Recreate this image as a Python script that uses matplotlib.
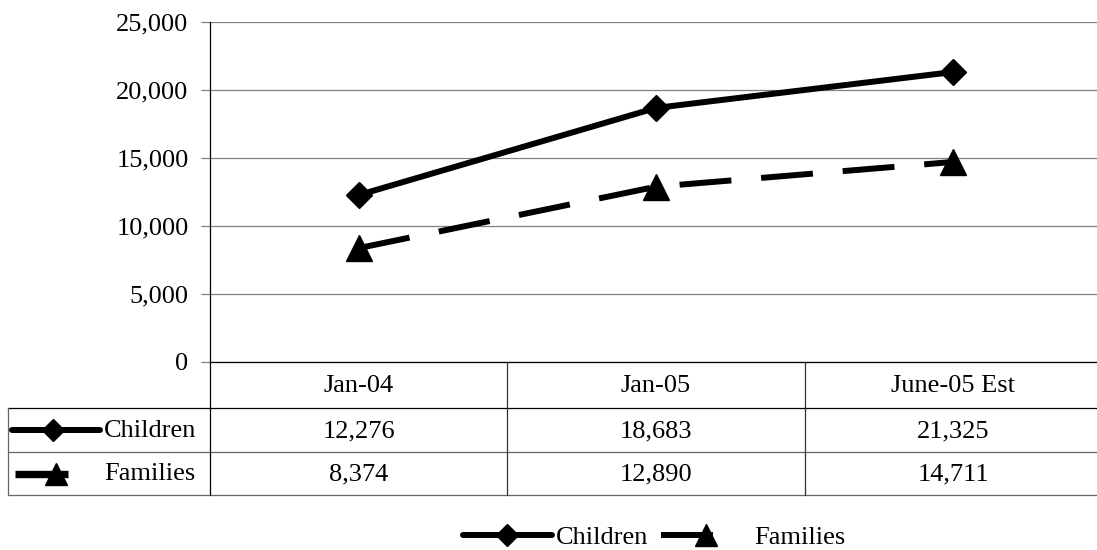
import matplotlib.pyplot as plt
from matplotlib.lines import Line2D
from matplotlib.transforms import blended_transform_factory

plt.rcParams['font.family'] = ['Liberation Serif', 'DejaVu Serif']

months = ['Jan-04', 'Jan-05', 'June-05 Est']
children = [12276, 18683, 21325]
families = [8374, 12890, 14711]

W, H = 1097, 550
FS = 19
GRID = '#808080'
LW = 4.3

fig = plt.figure(figsize=(W / 100, H / 100), dpi=100)

# plot area, given in pixels from the top-left corner
left, right, top, base = 210, 1102, 22, 362
ax = fig.add_axes([left / W, 1 - base / H, (right - left) / W, (base - top) / H])

child_line = dict(color='black', lw=LW, solid_capstyle='round', clip_on=False)
fam_line = dict(color='black', lw=LW, linestyle=(0, (8.7, 5.0)),
                dash_capstyle='butt', clip_on=False)

x = list(range(len(months)))
ax.plot(x, children, marker='D', ms=13, **child_line)
ax.plot(x, families, marker='^', ms=19, **fam_line)

ax.set_xlim(-0.5, len(months) - 0.5)
ax.set_ylim(0, 25000)
ax.set_yticks(range(0, 25001, 5000))
ax.yaxis.set_major_formatter(lambda v, p: f'{v:,.0f}')
ax.tick_params(axis='y', length=6.5, width=0.9, color=GRID, pad=9, labelsize=FS)
ax.tick_params(axis='x', bottom=False, labelbottom=False)
ax.grid(axis='y', color=GRID, lw=0.9)
for s in ['top', 'right']:
    ax.spines[s].set_visible(False)
ax.spines['left'].set_linewidth(0.9)
ax.spines['bottom'].set_linewidth(0.9)

# data table under the plot
t_head, t_row1, t_row2, t_bot = 362, 408, 452, 495
tab = fig.add_axes([0, 1 - t_bot / H, 1, (t_bot - t_head) / H])
tab.set_xlim(0, W)
tab.set_ylim(t_bot, t_head)
tab.axis('off')
bt = blended_transform_factory(ax.transData, tab.transData)

line_kw = dict(lw=0.9, clip_on=False)
tab.plot([8, W], [t_row1, t_row1], color='black', **line_kw)
tab.plot([8, W], [t_row2, t_row2], color='#666666', **line_kw)
tab.plot([8, W], [t_bot, t_bot], color='#666666', **line_kw)
tab.plot([8, 8], [t_row1, t_bot], color='#666666', **line_kw)
tab.plot([left, left], [t_head, t_bot], color='black', **line_kw)
for xb in [i + 0.5 for i in x[:-1]]:
    tab.plot([xb, xb], [t_head, t_bot], color='#333333', transform=bt, **line_kw)

for i, m in enumerate(months):
    tab.text(i, (t_head + t_row1) / 2 + 1, m, transform=bt, ha='center', va='center', fontsize=FS)
    tab.text(i, (t_row1 + t_row2) / 2 + 1, f'{children[i]:,}', transform=bt,
             ha='center', va='center', fontsize=FS)
    tab.text(i, (t_row2 + t_bot) / 2 + 1, f'{families[i]:,}', transform=bt,
             ha='center', va='center', fontsize=FS)

# series keys in the row headers
y1 = (t_row1 + t_row2) / 2
y2 = (t_row2 + t_bot) / 2
tab.plot([12, 100], [y1, y1], **child_line)
tab.plot([53], [y1], marker='D', ms=11, color='black', clip_on=False)
tab.plot([15, 68], [y2, y2], color='black', lw=LW + 1, solid_capstyle='butt', clip_on=False)
tab.plot([56], [y2], marker='^', ms=16, color='black', clip_on=False)
tab.text(104, y1 + 1, 'Children', ha='left', va='center', fontsize=FS)
tab.text(104, y2 + 1, 'Families', ha='left', va='center', fontsize=FS)

# legend keys: one dash then a gap for the dashed series
fam_key = dict(fam_line, linestyle=(0, (8.7, 20.0)))
handles = [Line2D([], [], marker='D', ms=11, **child_line),
           Line2D([], [], marker='^', ms=16, **fam_key)]
fig.legend(handles, ['Children', 'Families'], loc='center',
           bbox_to_anchor=(654 / W, 1 - 537 / H), ncol=2, frameon=False,
           fontsize=FS, numpoints=1, handlelength=3.37, handletextpad=0.15,
           columnspacing=0.5, borderpad=0)

fig.savefig('out.png', dpi=100)
